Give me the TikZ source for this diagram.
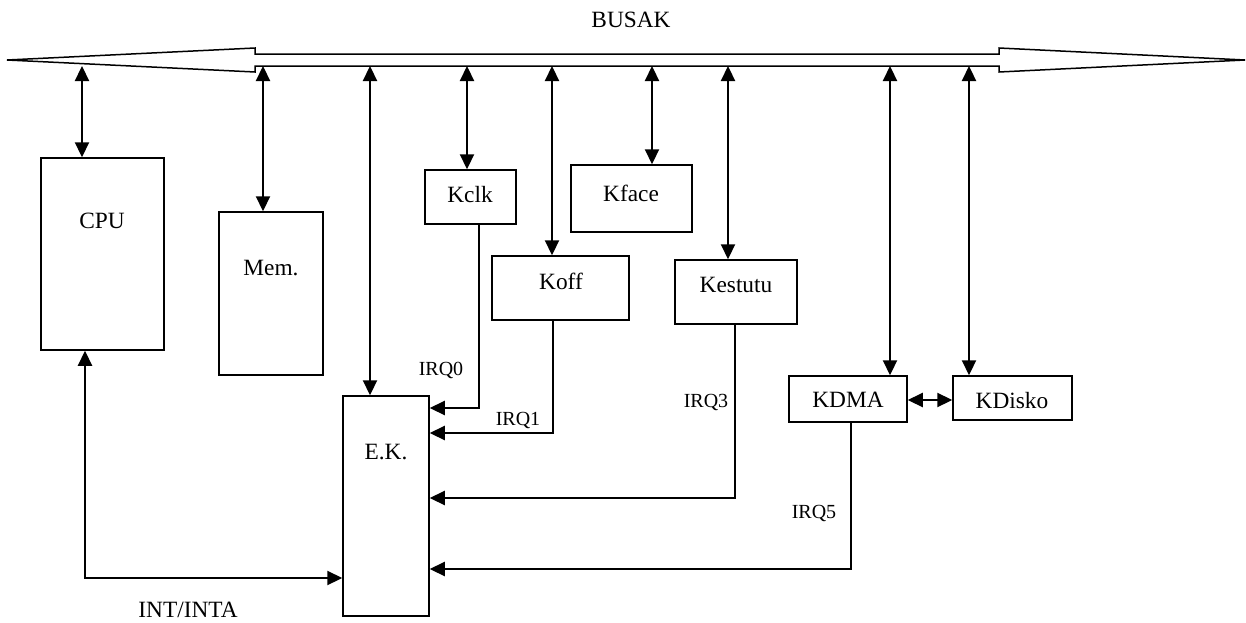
\documentclass[tikz,border=0pt]{standalone}
\usepackage{fontspec}
\setmainfont{Liberation Serif}
\usepackage{tikz}
\usetikzlibrary{arrows.meta,positioning,fit,calc}

\begin{document}
\begin{tikzpicture}[x=0.6pt,y=-0.6pt,font=\fontsize{14}{16}\selectfont,
  box/.style={draw=black,line width=0.9pt,inner sep=0pt,fit={#1}},
  irq/.style={font=\fontsize{12}{14}\selectfont},
  arr/.style={-{Triangle[length=9pt,width=8.5pt]},line width=0.9pt},
  dbl/.style={{Triangle[length=9pt,width=8.5pt]}-{Triangle[length=9pt,width=8.5pt]},line width=0.9pt}]
  \useasboundingbox (0,0) rectangle (1246,622);

  \draw[line width=0.9pt,line join=miter] (7,60) -- (255,48) -- (255,54) -- (999,54) -- (999,48)
    -- (1245,60) -- (999,72) -- (999,66) -- (255,66) -- (255,72) -- cycle;
  \node (busak) at (631,20) {BUSAK};

  \node[box={(41,158) (164,350)}] (cpu) {};
  \node (cpu-t) at (102,221) {CPU};
  \node[box={(219,212) (323,375)}] (mem) {};
  \node (mem-t) at (271,268) {Mem.};
  \node[box={(343,396) (429,616)}] (ek) {};
  \node (ek-t) at (386,452) {E.K.};
  \node[box={(425,170) (516,224)}] (kclk) {};
  \node (kclk-t) at (470,195) {Kclk};
  \node[box={(492,256) (629,320)}] (koff) {};
  \node (koff-t) at (561,281) {Koff};
  \node[box={(571,165) (692,232)}] (kface) {};
  \node (kface-t) at (631,193) {Kface};
  \node[box={(675,260) (797,324)}] (kestutu) {};
  \node (kestutu-t) at (736,285) {Kestutu};
  \node[box={(789,376) (907,422)}] (kdma) {};
  \node (kdma-t) at (848,400) {KDMA};
  \node[box={(953,376) (1072,420)}] (kdisko) {};
  \node (kdisko-t) at (1012,401) {KDisko};

  \coordinate (b-cpu) at (82,66);
  \coordinate (b-mem) at (263,66);
  \coordinate (b-ek) at (370,66);
  \coordinate (b-kclk) at (467,66);
  \coordinate (b-koff) at (552,66);
  \coordinate (b-kface) at (652,66);
  \coordinate (b-kestutu) at (728,66);
  \coordinate (b-kdma) at (890,66);
  \coordinate (b-kdisko) at (969,66);
  \draw[dbl] (b-cpu) -- (b-cpu |- cpu.north);
  \draw[dbl] (b-mem) -- (b-mem |- mem.north);
  \draw[dbl] (b-ek) -- (b-ek |- ek.north);
  \draw[dbl] (b-kclk) -- (b-kclk |- kclk.north);
  \draw[dbl] (b-koff) -- (b-koff |- koff.north);
  \draw[dbl] (b-kface) -- (b-kface |- kface.north);
  \draw[dbl] (b-kestutu) -- (b-kestutu |- kestutu.north);
  \draw[dbl] (b-kdma) -- (b-kdma |- kdma.north);
  \draw[dbl] (b-kdisko) -- (b-kdisko |- kdisko.north);
  \draw[dbl] (kdma.east |- 0,400) -- (kdisko.west |- 0,400);

  \coordinate (q0) at (479,408);
  \coordinate (q1) at (553,433);
  \coordinate (q3) at (735,498);
  \coordinate (q5) at (851,569);
  \coordinate (qi) at (85,578);
  \draw[arr] (q0 |- kclk.south) -- (q0) -- (q0 -| ek.east);
  \draw[arr] (q1 |- koff.south) -- (q1) -- (q1 -| ek.east);
  \draw[arr] (q3 |- kestutu.south) -- (q3) -- (q3 -| ek.east);
  \draw[arr] (q5 |- kdma.south) -- (q5) -- (q5 -| ek.east);
  \draw[dbl] (qi |- cpu.south) -- (qi) -- (qi -| ek.west);

  \node[irq] (irq0) at (441,370) {IRQ0};
  \node[irq] (irq1) at (518,420) {IRQ1};
  \node[irq] (irq3) at (706,402) {IRQ3};
  \node[irq] (irq5) at (814,513) {IRQ5};
  \node (inta) at (188,610) {INT/INTA};
\end{tikzpicture}
\end{document}
